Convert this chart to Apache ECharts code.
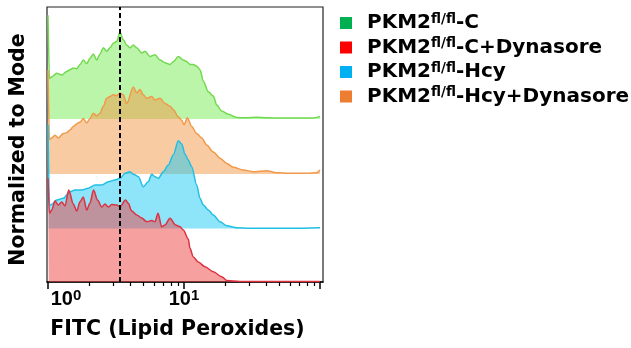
<!DOCTYPE html>
<html><head><meta charset="utf-8">
<script src="https://cdn.jsdelivr.net/npm/echarts@6/dist/echarts.min.js"></script>
<style>html,body{margin:0;padding:0;background:#fff}#c{width:631px;height:348px}</style>
</head><body><div id="c"></div>
<script>
// ---------- data ----------
const seriesNames = ['PKM2fl/fl-C', 'PKM2fl/fl-C+Dynasore', 'PKM2fl/fl-Hcy', 'PKM2fl/fl-Hcy+Dynasore'];
const legendColors = ['#00b050', '#ff0000', '#00b0f0', '#ed7d31'];

// FITC intensity and normalized counts (% of mode) per histogram
const cX = [1.00,1.012,1.025,1.065,1.159,1.261,1.373,1.451,1.535,1.626,1.719,1.818,1.926,2.036,2.154,2.281,2.412,2.551,2.702,2.857,3.021,3.200,3.384,3.579,3.790,4.009,4.240,4.490,4.887,5.168,5.623,6.120,6.662,7.250,7.889,8.341,9.081,9.883,10.52,11.07,11.70,12.40,13.11,13.87,15.09,16.42,17.40,18.93,21.17,24.41,28.91,34.25,40.56,50.80,67.43,88.82,100];
const cY = [118,118,46,48,52,50,54,56,58,57,62,67,63,69,74,67,74,81,77,81,86,88,99,90,84,81,84,81,75,77,71,73,67,64,62,65,71,67,65,62,62,60,56,43,31,26,16,9,5.3,1.8,1.3,2,1.3,1,1,1,3];

const hdX = [1.00,1.012,1.025,1.065,1.126,1.191,1.296,1.373,1.451,1.535,1.626,1.719,1.818,1.926,2.036,2.154,2.281,2.412,2.551,2.702,2.857,3.021,3.200,3.384,3.579,3.790,4.240,4.490,4.748,5.021,5.318,5.788,6.120,6.662,7.250,7.889,8.341,9.081,9.619,10.00,10.57,11.39,12.40,13.50,14.69,16.42,18.40,20.61,23.04,27.29,32.33,40.56,48.04,60.17,79.83,94.56,100];
const hdY = [118,118,39,41,44,41,46,47,50,54,57,59,63,58,63,69,66,69,77,86,88,90,89,92,90,80,99,92,96,90,86,88,84,86,80,77,73,65,61,56,64,54,46,41,33,25,18,12,7.6,4.5,2.6,3.8,1.5,0.8,0.8,1.5,4.5];

const hX = [1.00,1.012,1.025,1.065,1.159,1.296,1.451,1.579,1.769,1.978,2.216,2.483,2.776,3.109,3.384,3.684,4.009,4.240,4.613,5.021,5.463,5.788,6.120,6.471,7.044,7.666,8.341,9.081,9.619,10.17,10.75,11.39,12.40,13.11,13.87,15.09,16.42,18.40,20.61,24.41,30.57,38.30,60.17,100];
const hY = [118,118,26,27.5,32.4,34.3,41.8,43.8,43.8,45.7,49.4,49.4,53.2,55.1,57,62.7,64.5,61.6,58.9,47.5,53.2,61.6,58.9,57,64.5,72.2,83.5,99.8,96,84.7,77.8,70.2,49.4,34.3,26.7,21,15.3,7.7,3.2,0.9,0.3,0.2,0.3,0.9];

const cdX = [1.00,1.012,1.025,1.065,1.126,1.191,1.261,1.334,1.420,1.535,1.626,1.719,1.818,1.926,2.036,2.161,2.312,2.483,2.625,2.776,2.941,3.200,3.384,3.715,3.894,4.125,4.490,4.887,5.318,5.788,6.120,6.439,6.855,7.250,7.889,8.660,9.346,9.883,10.75,11.07,11.70,12.74,14.27,16.42,18.93,20.61,25.81,100];
const cdY = [118,118,78,81.8,92,87.5,90.9,86.4,104.5,88.6,80.7,91.3,96.6,81.8,89.8,104.5,93.2,85.2,88.6,85.2,88.1,87.5,85.6,93.2,89.4,80.7,76.1,72.7,68.5,69.9,68.5,78.1,62.8,64.8,72.4,64.8,62.8,59.1,48.9,38.3,28.4,22.7,17.4,11.7,6,1.7,0.6,0.6];

const xTickLabels = [1, 10];
const xMajorTicks = [1, 10, 100];
const xMinorTicks = [2,3,4,5,6,7,8,9,20,30,40,50,60,70,80,90];
const markerFITC = 3.38;
const xMin = 0.983, xMax = 105.2;

// ---------- layout ----------
const W = 631, H = 348;
const plotLeft = 47, plotRight = 323, plotTop = 7;
const pxPerUnit = 0.88;
// drawing order: back to front
const layers = [
  { name: seriesNames[0], xs: cX,  ys: cY,  base: 119,   line: '#72d94f', fill: 'rgba(117,235,83,0.5)' },
  { name: seriesNames[3], xs: hdX, ys: hdY, base: 174,   line: '#f0994a', fill: 'rgba(243,151,69,0.5)' },
  { name: seriesNames[2], xs: hX,  ys: hY,  base: 228.5, line: '#20bfe4', fill: 'rgba(29,201,241,0.5)' },
  { name: seriesNames[1], xs: cdX, ys: cdY, base: 282,   line: '#dc3242', fill: 'rgba(239,65,65,0.5)' }
];
const FONT = "'Liberation Sans', Arial, sans-serif";
const WIDE = "'DejaVu Sans', sans-serif";

const grids = [], xAxes = [], yAxes = [], series = [];
layers.forEach((L, i) => {
  const isBottom = i === layers.length - 1;
  grids.push({
    left: plotLeft, right: W - plotRight, top: plotTop, bottom: H - L.base,
    show: isBottom, borderColor: '#222', borderWidth: 1.2, backgroundColor: 'transparent'
  });
  const xa = { gridIndex: i, type: 'log', logBase: 10, min: xMin, max: xMax, show: isBottom };
  if (isBottom) {
    Object.assign(xa, {
      axisLine: { lineStyle: { color: '#000', width: 1.5 } },
      axisTick: { show: true, customValues: xMajorTicks, length: 7, inside: false, lineStyle: { color: '#000', width: 1.5 } },
      splitLine: { show: false }, minorTick: { show: false },
      axisLabel: {
        customValues: xTickLabels, margin: 6,
        formatter: v => { const e = Math.round(Math.log10(v)); return (e === 0 ? '{p|}' : '') + '{m|10}{s|' + e + '}'; },
        rich: {
          p: { width: 36 },
          m: { fontSize: 20, fontWeight: 'bold', color: '#000', fontFamily: FONT, lineHeight: 22 },
          s: { fontSize: 15, fontWeight: 'bold', color: '#000', fontFamily: FONT, verticalAlign: 'top', lineHeight: 15 }
        }
      },
      name: 'FITC (Lipid Peroxides)', nameLocation: 'middle', nameGap: 37,
      nameTextStyle: { fontSize: 20.5, fontWeight: 'bold', color: '#000', fontFamily: WIDE, padding: [0, 15, 0, 0] }
    });
  }
  xAxes.push(xa);
  const ya = { gridIndex: i, type: 'value', min: 0, max: (L.base - plotTop) / pxPerUnit,
    axisLine: { show: false }, axisTick: { show: false }, axisLabel: { show: false }, splitLine: { show: false } };
  if (isBottom) {
    Object.assign(ya, { name: 'Normalized to Mode', nameLocation: 'middle', nameGap: 18,
      nameTextStyle: { fontSize: 20.5, fontWeight: 'bold', color: '#000', fontFamily: WIDE, padding: [0, 10, 0, 0] } });
  } else ya.show = false;
  yAxes.push(ya);
  const s = {
    name: L.name, type: 'line', xAxisIndex: i, yAxisIndex: i,
    data: L.xs.map((x, k) => [x, L.ys[k]]),
    showSymbol: false, smooth: 0.3, smoothMonotone: 'x',
    lineStyle: { color: L.line, width: 1.5 }, itemStyle: { color: L.line },
    areaStyle: { color: L.fill, opacity: 1 }, z: 2 + i
  };
  if (isBottom) {
    s.markLine = { silent: true, symbol: ['none', 'none'], label: { show: false }, z: 20,
      lineStyle: { color: '#000', type: [5, 3], width: 2 }, data: [{ xAxis: markerFITC }] };
  }
  series.push(s);
});
// minor ticks on the bottom axis
xAxes.push({ gridIndex: layers.length - 1, type: 'log', min: xMin, max: xMax, position: 'bottom',
  axisLine: { show: false }, splitLine: { show: false }, axisLabel: { show: false },
  axisTick: { show: true, customValues: xMinorTicks, length: 4, lineStyle: { color: '#000', width: 1.2 } } });

const chart = echarts.init(document.getElementById('c'), null, { renderer: 'canvas' });
chart.setOption({
  animation: false,
  backgroundColor: '#fff',
  grid: grids, xAxis: xAxes, yAxis: yAxes, series: series,
  legend: {
    orient: 'vertical', left: 335, top: 7, itemWidth: 12, itemHeight: 12, itemGap: 2.5, icon: 'rect',
    selectedMode: false,
    data: seriesNames.map((n, i) => ({ name: n, icon: 'rect', itemStyle: { color: legendColors[i], borderWidth: 0 } })),
    formatter: n => n.replace('fl/fl', '{sup|fl/fl}'),
    textStyle: { fontSize: 20, fontWeight: 'bold', color: '#000', fontFamily: WIDE, lineHeight: 22, padding: [0, 0, 0, 10],
      rich: { sup: { fontSize: 13.5, fontWeight: 'bold', color: '#000', fontFamily: WIDE, verticalAlign: 'top', lineHeight: 14 } } }
  }
});
</script></body></html>
